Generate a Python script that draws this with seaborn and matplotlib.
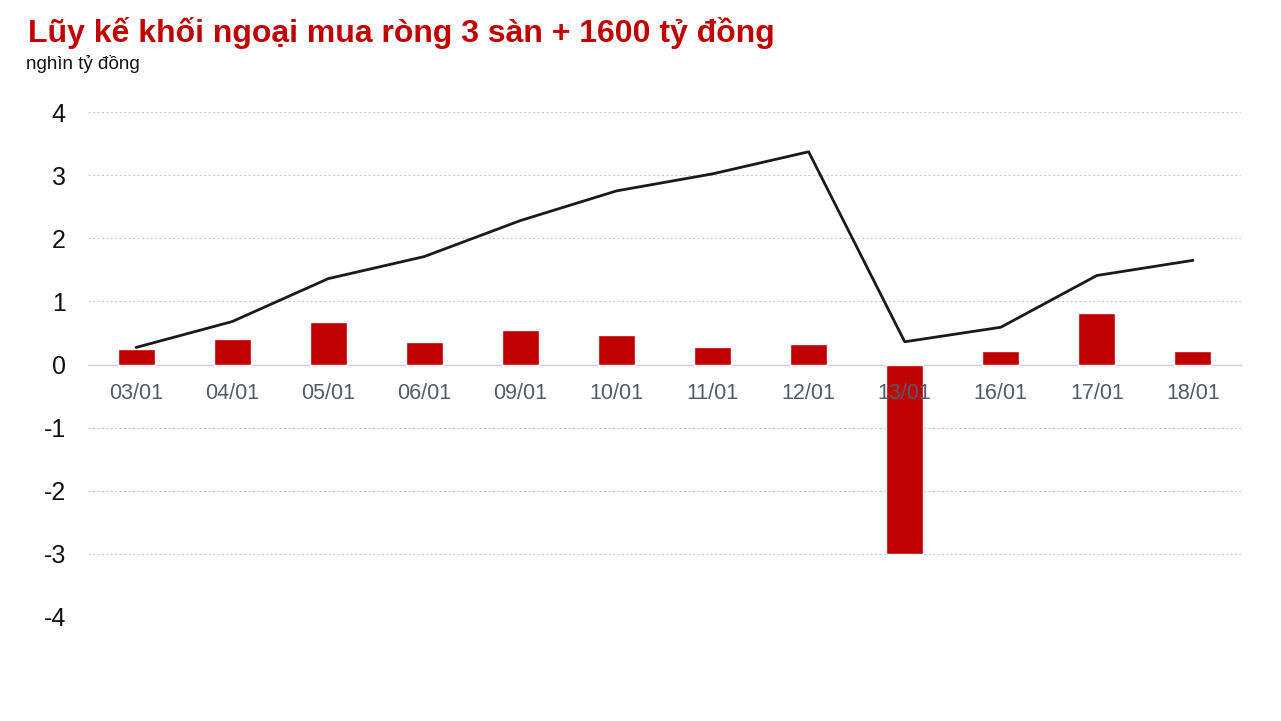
import numpy as np
import pandas as pd
import seaborn as sns
import matplotlib.pyplot as plt

dates = ["03/01", "04/01", "05/01", "06/01", "09/01", "10/01",
         "11/01", "12/01", "13/01", "16/01", "17/01", "18/01"]
daily = [0.25, 0.41, 0.68, 0.36, 0.55, 0.46, 0.27, 0.33, -3.0, 0.22, 0.82, 0.22]
cumulative = [0.27, 0.68, 1.36, 1.71, 2.28, 2.75, 3.02, 3.37, 0.36, 0.59, 1.41, 1.65]
y_ticks = [-4, -3, -2, -1, 0, 1, 2, 3, 4]

sns.set_style("white")
plt.rcParams['font.family'] = ['Liberation Sans', 'DejaVu Sans']

df = pd.DataFrame({"date": dates, "daily": daily, "cum": cumulative})

fig = plt.figure(figsize=(12.81, 7.21), dpi=100)
ax = fig.add_axes([88 / 1281, 1 - 617 / 721, (1241 - 88) / 1281, (617 - 112) / 721])

sns.barplot(data=df, x="date", y="daily", color="#c00000", saturation=1,
            width=0.385, ax=ax, zorder=2)
sns.lineplot(x=np.arange(len(dates)), y=df["cum"], color="#1a1a1a",
             linewidth=2.0, ax=ax, zorder=3)

ax.set_xlim(-0.5, len(dates) - 0.5)
ax.set_ylim(-4, 4)
ax.set_yticks(y_ticks)
ax.set_yticklabels([str(v) for v in y_ticks], fontsize=18, color="#111111")
ax.set_xlabel("")
ax.set_ylabel("")

for v in y_ticks:
    if v != 0:
        ax.axhline(v, color="#cccccc", linewidth=0.8, linestyle=(0, (2, 2)), zorder=0)

for s in ["top", "right", "left"]:
    ax.spines[s].set_visible(False)
ax.spines["bottom"].set_position(("data", 0))
ax.spines["bottom"].set_color("#d0d0d0")
ax.spines["bottom"].set_linewidth(1.0)
ax.spines["bottom"].set_zorder(1)

ax.tick_params(axis="x", length=0, pad=13, labelsize=15.5, labelcolor="#555a66")
ax.tick_params(axis="y", length=0, pad=16)
# tick labels sit on top of the bars (13/01)
ax.xaxis.set_zorder(5)

fig.text(28 / 1281, 1 - 42 / 721, "Lũy kế khối ngoại mua ròng 3 sàn + 1600 tỷ đồng",
         fontsize=23, fontweight="bold", color="#c00000", ha="left", va="baseline")
fig.text(26 / 1281, 1 - 69 / 721, "nghìn tỷ đồng", fontsize=13.5, color="#111111",
         ha="left", va="baseline")

fig.savefig("out.png", dpi=100)
